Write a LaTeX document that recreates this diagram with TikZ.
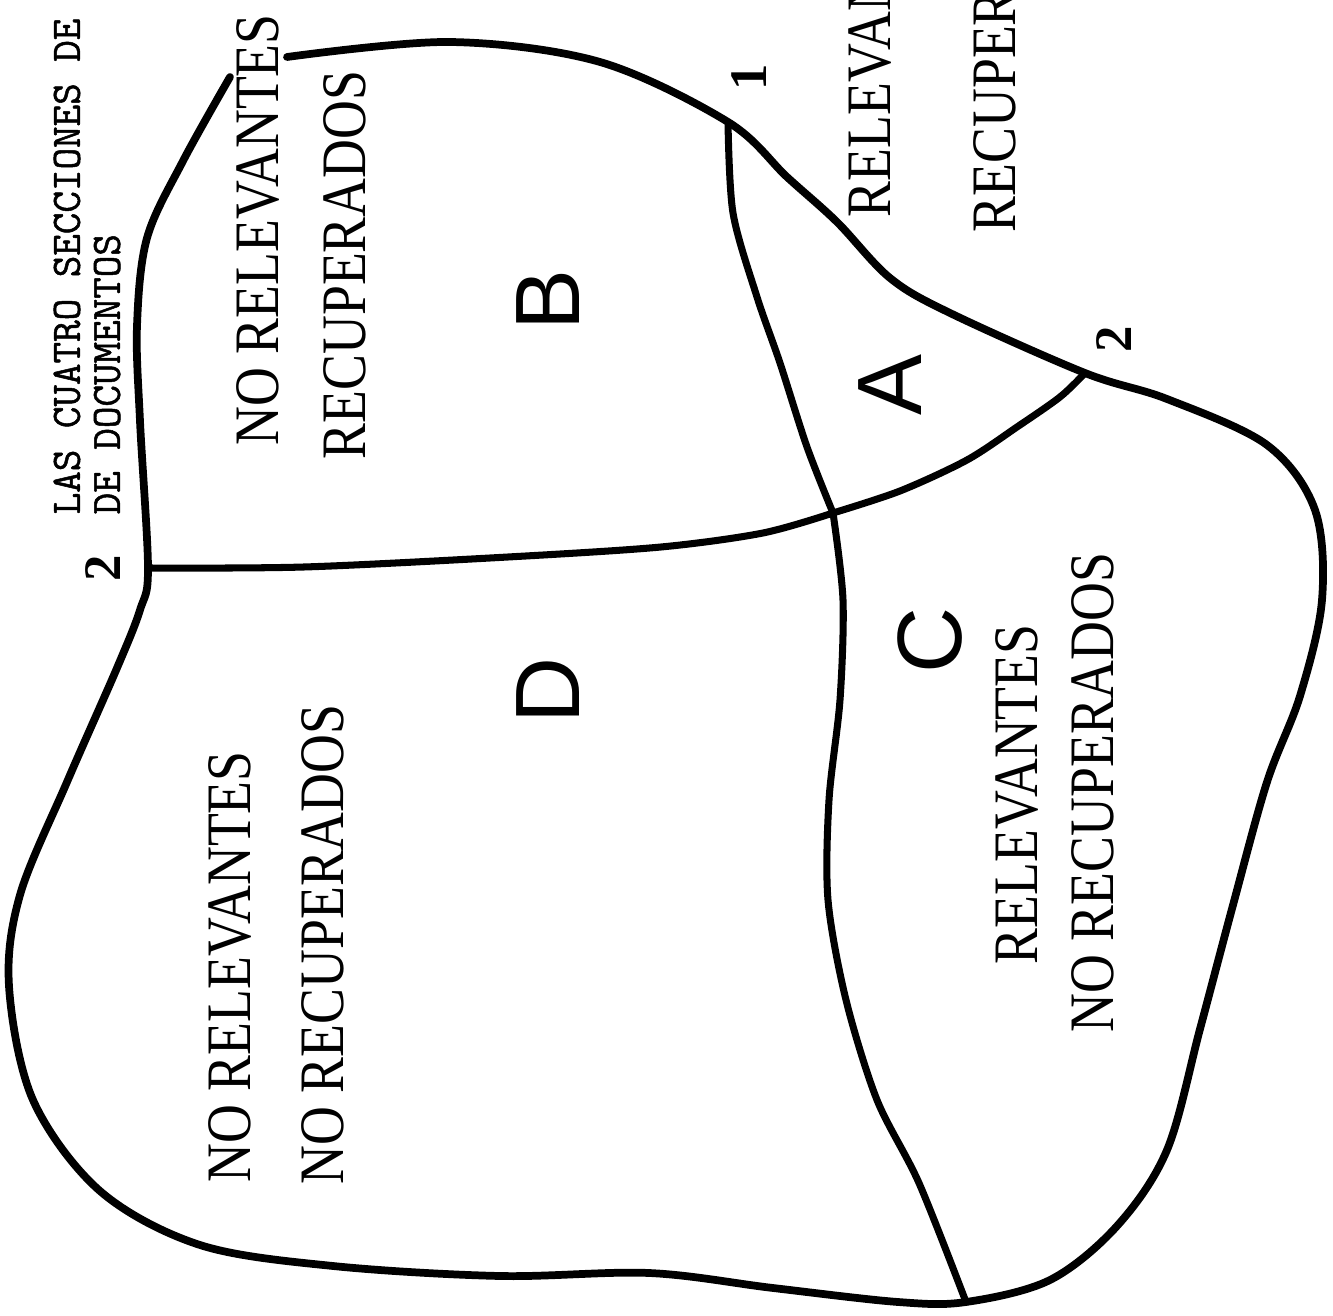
\documentclass[tikz,border=0pt]{standalone}
\usepackage{fontspec}
\setmainfont{Liberation Serif}
\newfontfamily\letrafont{Liberation Sans}
\newfontfamily\rotfont[FakeStretch=0.85]{Liberation Serif}
\newfontfamily\maquina[FakeBold=1.2]{Latin Modern Mono}

\tikzset{
	contorno/.style={line width=2.2pt, line cap=round, line join=round},
	division/.style={line width=2pt, line cap=round, line join=round},
	rotulo/.style={font=\rotfont\fontsize{18}{20}\selectfont, rotate=90, anchor=west, inner sep=0pt},
	letra/.style={font=\letrafont\fontsize{26}{28}\selectfont, rotate=90, inner sep=0pt},
	vertice/.style={font=\bfseries\fontsize{15}{16}\selectfont, rotate=90, inner sep=0pt},
}

\begin{document}
\begin{tikzpicture}[x=0.01cm, y=-0.01cm]
	\clip (0,0) rectangle (1333,1316);
	\fill[white] (0,0) rectangle (1333,1316);
	% vertices
	\coordinate (v1) at (728,122);
	\coordinate (v2d) at (1085,373);
	\coordinate (v2i) at (148,568);
	\coordinate (vc) at (833,513);
	\coordinate (vb) at (966,1302);
	\coordinate (ext1) at (287,57);
	\coordinate (ext2) at (230,77);
	% contorno exterior
	\draw[contorno] plot[smooth, tension=0.55] coordinates {
		(ext1) (450,42) (600,62) (v1) (787,177) (837,222) (890,278)
		(950,313) (v2d) (1167,399) (1267,445) (1315,510) (1322,600) (1300,696)
		(1267,782) (1233,905) (1200,1029) (1167,1150) (1117,1226) (1050,1280)
		(vb) (898,1302) (773,1288) (649,1273) (500,1276) (333,1266) (200,1245)
		(100,1191) (33,1100) (9,986) (20,895) (67,782) (117,668) (140,610)
		(v2i) (140,421) (137,326) (147,238) (183,161) (ext2)};
	% divisiones
	\draw[division] plot[smooth] coordinates {(v2i) (304,567) (508,557) (661,547) (763,533) (vc)};
	\draw[division] plot[smooth] coordinates {(vc) (900,491) (967,460) (1017,427) (1060,397) (v2d)};
	\draw[division] plot[smooth] coordinates {(v1) (733,213) (757,297) (780,363) (807,447) (vc)};
	\draw[division] plot[smooth] coordinates {(vc) (843,600) (840,700) (829,800) (828,900) (846,1000) (877,1100) (919,1183) (vb)};
	% numeros de los vertices
	\node[vertice] (n1) at (749,77) {1};
	\node[vertice] (n2d) at (1114,339) {2};
	\node[vertice] (n2i) at (103,568) {2};
	% titulo
	\node[rotate=90, anchor=west, inner sep=0pt, align=left,
		font=\maquina\fontsize{11.9}{11.4}\selectfont] (titulo) at (87,515)
		{LAS CUATRO SECCIONES DE\\DE DOCUMENTOS};
	% secciones
	\node[letra] (A) at (890,385) {A};
	\node[letra] (B) at (548,300) {B};
	\node[letra] (C) at (930,640) {C};
	\node[letra] (D) at (548,690) {D};
	\node[rotulo] (a1) at (870,218) {RELEVANTES};
	\node[rotulo] (a2) at (995,233) {RECUPERADOS};
	\node[rotulo] (b1) at (258,446) {NO RELEVANTES};
	\node[rotulo] (b2) at (345,460) {RECUPERADOS};
	\node[rotulo] (c1) at (1017,965) {RELEVANTES};
	\node[rotulo] (c2) at (1093,1033) {NO RECUPERADOS};
	\node[rotulo] (d1) at (230,1183) {NO RELEVANTES};
	\node[rotulo] (d2) at (323,1185) {NO RECUPERADOS};
\end{tikzpicture}
\end{document}
